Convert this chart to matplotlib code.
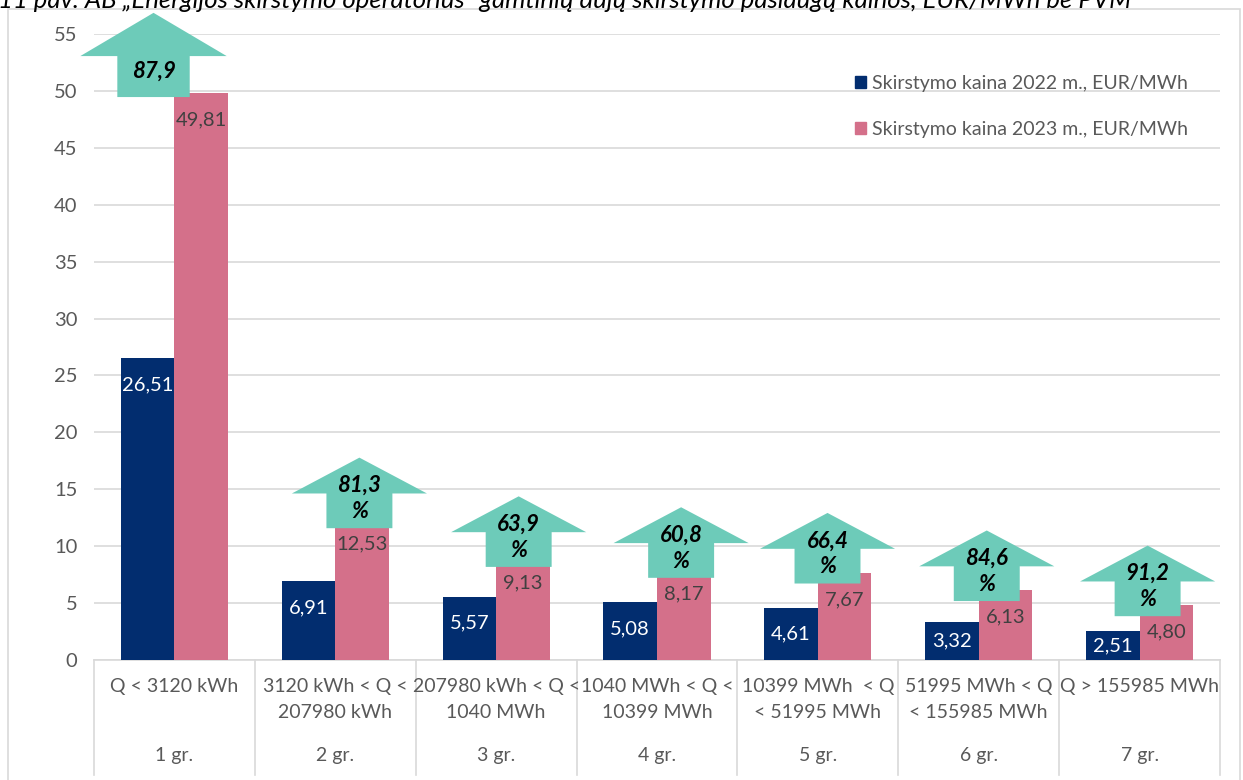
import numpy as np
import matplotlib
matplotlib.use("Agg")
import matplotlib.pyplot as plt
from matplotlib.patches import Polygon, Rectangle

plt.rcParams['font.family'] = ['Lato', 'DejaVu Sans']

# Data
groups = ["1 gr.", "2 gr.", "3 gr.", "4 gr.", "5 gr.", "6 gr.", "7 gr."]
ranges = ["Q < 3120 kWh", "3120 kWh < Q <\n207980 kWh", "207980 kWh < Q <\n1040 MWh",
          "1040 MWh < Q <\n10399 MWh", "10399 MWh  < Q\n< 51995 MWh",
          "51995 MWh < Q\n< 155985 MWh", "Q > 155985 MWh"]
price_2022 = [26.51, 6.91, 5.57, 5.08, 4.61, 3.32, 2.51]
price_2023 = [49.81, 12.53, 9.13, 8.17, 7.67, 6.13, 4.80]
growth = ["87,9", "81,3\n%", "63,9\n%", "60,8\n%", "66,4\n%", "84,6\n%", "91,2\n%"]
series = ["Skirstymo kaina 2022 m., EUR/MWh", "Skirstymo kaina 2023 m., EUR/MWh"]
title = "11 pav. AB \u201eEnergijos skirstymo operatorius\u201c gamtinių dujų skirstymo paslaugų kainos, EUR/MWh be PVM"

NAVY = "#022D6F"
PINK = "#D4708A"
TEAL = "#6DCBB9"
GRID = "#D9D9D9"
TXT = "#595959"

W, H = 1243, 780
fig = plt.figure(figsize=(W / 100, H / 100), dpi=100)
ax = fig.add_axes([94 / W, 1 - 660 / H, (1220 - 94) / W, 626 / H])

x = np.arange(len(groups)) + 0.5
bw = 0.333
ax.bar(x - bw / 2, price_2022, bw, color=NAVY, zorder=2, label=series[0])
ax.bar(x + bw / 2, price_2023, bw, color=PINK, zorder=2, label=series[1])

ax.set_xlim(0, len(groups))
ax.set_ylim(0, 55)
ax.set_yticks(np.arange(0, 56, 5))
ax.set_xticks([])
ax.tick_params(axis='y', length=0, pad=12, labelsize=14.5, labelcolor=TXT)
ax.grid(axis='y', color=GRID, linewidth=1.2, zorder=0)
for s in ax.spines.values():
    s.set_visible(False)

# value labels inside the bars
for xi, v in zip(x, price_2022):
    ax.text(xi - bw / 2, max(v - 2.35, v / 2), f"{v:.2f}".replace(".", ","),
            ha='center', va='center', color='white', fontsize=14.5, zorder=3)
for xi, v in zip(x, price_2023):
    ax.text(xi + bw / 2, max(v - 2.35, v / 2), f"{v:.2f}".replace(".", ","),
            ha='center', va='center', color="#404040", fontsize=14.5, zorder=3)

# growth arrows
dx = [-0.13, 0.15, 0.14, 0.15, 0.06, 0.05, 0.05]
for i, (xi, v, lab) in enumerate(zip(x, price_2023, growth)):
    if i == 0:
        h, hh, hw, sw = 7.4, 3.8, 0.91, 0.45
        base = v - 0.35
    else:
        h, hh, hw, sw = 6.2, 3.15, 0.84, 0.41
        base = v - 0.95
    cx = xi + dx[i]
    neck = base + h - hh
    pts = [(cx - sw / 2, base), (cx + sw / 2, base), (cx + sw / 2, neck),
           (cx + hw / 2, neck), (cx, base + h), (cx - hw / 2, neck),
           (cx - sw / 2, neck)]
    ax.add_patch(Polygon(pts, closed=True, facecolor=TEAL, edgecolor='none',
                         zorder=4, clip_on=False))
    ty = neck - 1.35 if i == 0 else neck - 0.45
    ax.text(cx, ty, lab, ha='center', va='center', fontsize=16,
            fontweight='bold', style='italic', color='black', zorder=5,
            linespacing=1.3)

# category axis: two levels of labels and separators
trans = ax.get_xaxis_transform()
ax.plot([0, len(groups)], [0, 0], color=GRID, linewidth=1.2, transform=trans,
        clip_on=False, zorder=1)
for b in range(len(groups) + 1):
    ax.plot([b, b], [0, -0.184], color=GRID, linewidth=1.2, transform=trans,
            clip_on=False)
for xi, r, g in zip(x, ranges, groups):
    ax.text(xi, -0.029, r, transform=trans, ha='center', va='top', fontsize=14,
            color=TXT, linespacing=1.62)
    ax.text(xi, -0.152, g, transform=trans, ha='center', va='center',
            fontsize=14, color=TXT)

# legend
handles = [Rectangle((0, 0), 1, 1, color=NAVY), Rectangle((0, 0), 1, 1, color=PINK)]
ax.legend(handles, series, loc='upper left', bbox_to_anchor=(0.66, 0.963),
          frameon=False, fontsize=14, labelcolor=TXT, handlelength=0.6,
          handleheight=0.6, handletextpad=0.3, labelspacing=1.5)

# outer chart border and clipped caption
fig.patches.append(Rectangle((8 / W, -0.01), (1240 - 8) / W, 1 - 9 / H + 0.01,
                             transform=fig.transFigure, fill=False,
                             edgecolor=GRID, linewidth=1.2))
fig.text(-0.002, 1 - 8 / H, title, ha='left', va='baseline', style='italic',
         fontsize=18.5, color='black')

fig.savefig("out.png", dpi=100)
